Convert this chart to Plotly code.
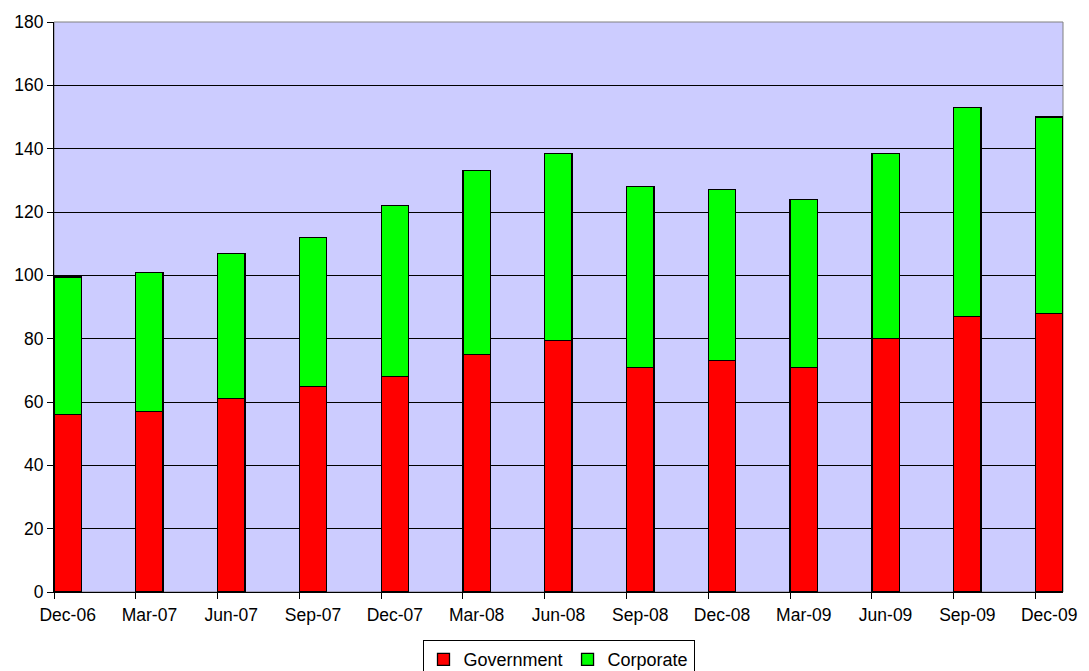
import plotly.graph_objects as go

# Quarter-end dates
quarters = ["Dec-06", "Mar-07", "Jun-07", "Sep-07", "Dec-07", "Mar-08", "Jun-08",
            "Sep-08", "Dec-08", "Mar-09", "Jun-09", "Sep-09", "Dec-09"]

# Holdings by sector
government = [56, 57, 61, 65, 68, 75, 79.5, 71, 73, 71, 80, 87, 88]
corporate = [43.5, 44, 46, 47, 54, 58, 59, 57, 54, 53, 58.5, 66, 62]

y_ticks = [0, 20, 40, 60, 80, 100, 120, 140, 160, 180]

BAR_W = 0.334
pos = list(range(len(quarters)))
label_pos = [p + BAR_W / 2 for p in pos]

font = dict(family="Liberation Sans, Arial, sans-serif", size=17.5, color="#000000")

fig = go.Figure()
fig.add_trace(go.Bar(
    x=pos, y=government, name="Government", width=BAR_W, offset=0,
    marker=dict(color="#FF0000", line=dict(color="#000000", width=1.3)),
))
fig.add_trace(go.Bar(
    x=pos, y=corporate, name="Corporate", width=BAR_W, offset=0,
    marker=dict(color="#00FF00", line=dict(color="#000000", width=1.3)),
))

fig.update_layout(
    barmode="stack",
    width=1089, height=671,
    margin=dict(l=54, r=18, t=22, b=79),
    paper_bgcolor="#FFFFFF",
    plot_bgcolor="#CCCCFF",
    font=font,
    showlegend=True,
    legend=dict(
        orientation="h", traceorder="normal",
        xref="paper", x=0.5, xanchor="center",
        yref="container", y=0.046, yanchor="top",
        bgcolor="#FFFFFF", bordercolor="#000000", borderwidth=1,
        font=dict(family="Liberation Sans, Arial, sans-serif", size=18),
        itemwidth=30, tracegroupgap=0,
    ),
    xaxis=dict(
        range=[0, 12.336], tickmode="array", tickvals=label_pos, ticktext=quarters,
        ticks="outside", ticklen=7, tickcolor="rgba(0,0,0,0)",
        showgrid=False, zeroline=False,
        showline=True, linecolor="#000000", linewidth=1,
        minor=dict(tickmode="array", tickvals=pos, ticks="outside", ticklen=6,
                   tickcolor="#000000", tickwidth=1, showgrid=False),
        fixedrange=True,
    ),
    yaxis=dict(
        range=[0, 180], tickmode="array", tickvals=y_ticks,
        ticks="outside", ticklen=6, tickcolor="#000000",
        showgrid=True, gridcolor="#000000", gridwidth=1,
        zeroline=False, showline=True, linecolor="#000000", linewidth=1,
        fixedrange=True,
    ),
    shapes=[dict(
        type="rect", xref="x domain", yref="y domain", x0=0, x1=1, y0=0, y1=1,
        line=dict(color="#808080", width=1), layer="below",
    )],
)

fig.write_html("out.html")
